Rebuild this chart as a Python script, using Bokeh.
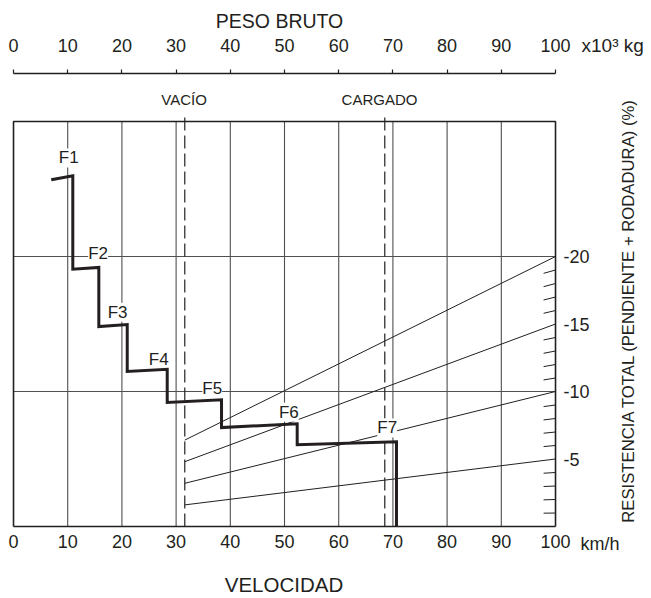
import math
from bokeh.plotting import figure
from bokeh.models import LinearAxis, FixedTicker, Label, Range1d
from bokeh.embed import file_html
from bokeh.resources import INLINE

# ---------------- data ----------------
speed_ticks = [0, 10, 20, 30, 40, 50, 60, 70, 80, 90, 100]
weight_ticks = [0, 10, 20, 30, 40, 50, 60, 70, 80, 90, 100]
grid_speeds = [10, 20, 30, 40, 50, 60, 70, 80, 90]
grid_forces = [10, 20]
resist_ticks = [5, 10, 15, 20]
resist_tick_labels = ["-5", "-10", "-15", "-20"]
resist_minor = [1, 2, 3, 4, 6, 7, 8, 9, 11, 12, 13, 14, 16, 17, 18, 19]
empty_weight = 31.6
loaded_weight = 68.5
resist_line_start = [1.6, 3.2, 4.8, 6.4]
resist_line_end = [5, 10, 15, 20]
rimpull_speed = [6.96, 10.94, 10.94, 15.74, 15.74, 20.98, 20.98, 28.36,
                 28.36, 38.38, 38.38, 52.34, 52.34, 70.66, 70.66]
rimpull_force = [25.68, 25.98, 19.06, 19.19, 14.81, 14.96, 11.48, 11.65,
                 9.19, 9.39, 7.33, 7.61, 6.05, 6.27, 0]
gear_names = ["F1", "F2", "F3", "F4", "F5", "F6", "F7"]
gear_label_speed = [10.2, 15.6, 19.2, 26.8, 36.66, 50.8, 68.95]
gear_label_force = [27.3, 20.2, 15.87, 12.35, 10.2, 8.47, 7.3]

FONT = "Liberation Sans"
INK = "#231f20"
GRID = "#505050"
FRAME_TOP = 30
TOP_AXIS_AT = 33.56

p = figure(width=651, height=598, x_range=Range1d(-2.40, 117.71), y_range=Range1d(-5.333, 38.963),
           output_backend="svg", toolbar_location=None, y_axis_location=None, title=None,
           min_border=0, min_border_left=0, min_border_right=0, min_border_top=0, min_border_bottom=0)
p.outline_line_color = None
p.xgrid.visible = False
p.ygrid.visible = False
p.background_fill_color = "white"
p.border_fill_color = "white"

def style_axis(ax, size="18px"):
    ax.axis_line_color = INK
    ax.axis_line_width = 1.5
    ax.major_tick_line_color = INK
    ax.major_tick_line_width = 1.2
    ax.minor_tick_line_color = None
    ax.major_label_text_font = FONT
    ax.major_label_text_font_size = size
    ax.major_label_text_color = INK

xa = p.xaxis[0]
xa.ticker = FixedTicker(ticks=speed_ticks)
xa.bounds = (0, 100)
xa.fixed_location = 0
style_axis(xa)
xa.major_tick_out = 0
xa.major_tick_in = 0
xa.major_label_standoff = 8

ta = LinearAxis(ticker=FixedTicker(ticks=weight_ticks), bounds=(0, 100), fixed_location=TOP_AXIS_AT)
style_axis(ta)
ta.major_tick_out = 4
ta.major_tick_in = 0
ta.major_label_standoff = 17
p.add_layout(ta, "above")

ra = LinearAxis(ticker=FixedTicker(ticks=resist_ticks), fixed_location=100,
                major_label_overrides={t: l for t, l in zip(resist_ticks, resist_tick_labels)})
style_axis(ra)
ra.axis_line_color = None
ra.major_tick_line_color = None
ra.major_tick_out = 0
ra.major_tick_in = 0
ra.major_label_standoff = 8
p.add_layout(ra, "right")

# grid
p.segment(x0=grid_speeds, y0=[0] * len(grid_speeds), x1=grid_speeds,
          y1=[FRAME_TOP] * len(grid_speeds), line_color=GRID, line_width=1.1)
p.segment(x0=[0] * len(grid_forces), y0=grid_forces, x1=[100] * len(grid_forces),
          y1=grid_forces, line_color=GRID, line_width=1.1)

# frame box
p.line(x=[0, 0, 100, 100], y=[0, FRAME_TOP, FRAME_TOP, 0], line_color=INK, line_width=1.6)

# empty / loaded weight
p.segment(x0=[empty_weight, loaded_weight], y0=[0, 0], x1=[empty_weight, loaded_weight],
          y1=[FRAME_TOP + 0.3, FRAME_TOP + 0.3], line_color=INK, line_width=1.2, line_dash="13 5")

# resistance lines
p.segment(x0=[empty_weight] * len(resist_line_start), y0=resist_line_start,
          x1=[100] * len(resist_line_end), y1=resist_line_end, line_color=INK, line_width=1)

# minor resistance ticks
p.segment(x0=[97.8] * len(resist_minor), y0=[v * 0.987 for v in resist_minor],
          x1=[100] * len(resist_minor), y1=resist_minor, line_color=INK, line_width=1)

# rimpull curve
r = p.line(rimpull_speed, rimpull_force, line_color=INK, line_width=3, line_join="miter")

for name, sx, fy in zip(gear_names, gear_label_speed, gear_label_force):
    p.add_layout(Label(x=sx, y=fy, text=name, text_align="center", text_baseline="middle",
                       text_font=FONT, text_font_size="17px", text_color=INK,
                       background_fill_color="white"))
r.level = "overlay"

def txt(x, y, t, size="18px", align="center", angle=0):
    p.add_layout(Label(x=x, y=y, text=t, text_align=align, text_baseline="middle",
                       text_font=FONT, text_font_size=size, text_color=INK, angle=angle))

txt(49.08, 37.48, "PESO BRUTO", "19.5px")
txt(49.9, -4.30, "VELOCIDAD", "20.5px")
txt(104.6, -1.26, "km/h", "18px", "left")
txt(104.8, 35.63, "x10\u00b3 kg", "19px", "left")
txt(113.47, 16.0, "RESISTENCIA TOTAL (PENDIENTE + RODADURA) (%)", "16.7px", "center", math.pi / 2)
txt(31.46, 31.63, "VAC\u00cdO", "15px")
txt(67.53, 31.63, "CARGADO", "15px")

open("out.html", "w").write(file_html(p, INLINE))
